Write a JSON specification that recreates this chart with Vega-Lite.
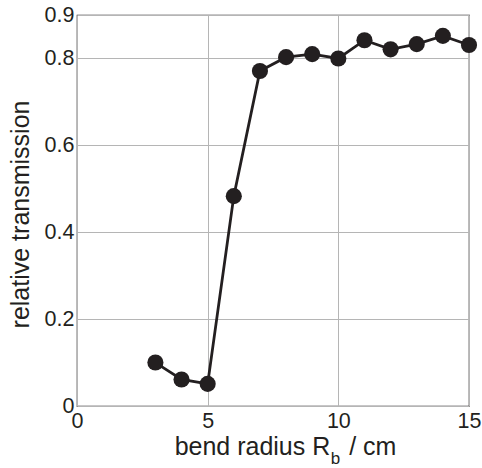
{
  "$schema": "https://vega.github.io/schema/vega-lite/v6.json",
  "width": 392,
  "height": 391,
  "autosize": "none",
  "padding": {"left": 77, "top": 15, "right": 13, "bottom": 62},
  "background": "white",
  "config": {
    "font": "Liberation Sans",
    "view": {"stroke": "#231f20", "strokeWidth": 1.2},
    "axis": {"labelColor": "#231f20", "titleColor": "#231f20", "titleFontWeight": "normal", "gridColor": "#b5b5b5", "gridWidth": 1, "gridOpacity": 1, "ticks": false, "domain": false}
  },
  "data": {
    "values": [
      {"radius": 3, "transmission": 0.100},
      {"radius": 4, "transmission": 0.061},
      {"radius": 5, "transmission": 0.051},
      {"radius": 6, "transmission": 0.483},
      {"radius": 7, "transmission": 0.771},
      {"radius": 8, "transmission": 0.803},
      {"radius": 9, "transmission": 0.810},
      {"radius": 10, "transmission": 0.800},
      {"radius": 11, "transmission": 0.842},
      {"radius": 12, "transmission": 0.821},
      {"radius": 13, "transmission": 0.833},
      {"radius": 14, "transmission": 0.852},
      {"radius": 15, "transmission": 0.831}
    ]
  },
  "resolve": {"axis": {"x": "independent"}},
  "layer": [
    {
      "mark": {"type": "line", "color": "#231f20", "strokeWidth": 2.8},
      "encoding": {
        "x": {
          "field": "radius", "type": "quantitative",
          "scale": {"domain": [0, 15], "nice": false, "zero": false},
          "axis": {
            "orient": "bottom",
            "values": [0, 5, 10, 15],
            "labelFontSize": 21.5,
            "labelPadding": 4,
            "labelFlush": false,
            "title": "bend radius R\u00a0\u00a0\u2009/ cm",
            "titleFontSize": 25,
            "titleX": 208,
            "titleY": 48,
            "titleAlign": "center",
            "titleBaseline": "alphabetic"
          }
        },
        "y": {
          "field": "transmission", "type": "quantitative",
          "scale": {"domain": [0, 0.9], "nice": false},
          "axis": {
            "values": [0, 0.2, 0.4, 0.6, 0.8, 0.9],
            "labelExpr": "datum.value == 0 ? '0' : format(datum.value, '.1f')",
            "labelFontSize": 21.5,
            "labelPadding": 3,
            "labelFlush": false,
            "title": "relative transmission",
            "titleFontSize": 25,
            "titleAngle": -90,
            "titleX": -49,
            "titleY": 199,
            "titleAlign": "center",
            "titleBaseline": "alphabetic"
          }
        }
      }
    },
    {
      "mark": {"type": "point", "filled": true, "size": 260, "color": "#231f20", "opacity": 1},
      "encoding": {
        "x": {
          "field": "radius", "type": "quantitative",
          "scale": {"domain": [0, 15], "nice": false, "zero": false},
          "axis": {
            "orient": "bottom",
            "labels": false,
            "grid": false,
            "title": "b",
            "titleFontSize": 17,
            "titleX": 258,
            "titleY": 57,
            "titleAlign": "center",
            "titleBaseline": "alphabetic"
          }
        },
        "y": {"field": "transmission", "type": "quantitative"}
      }
    }
  ]
}
